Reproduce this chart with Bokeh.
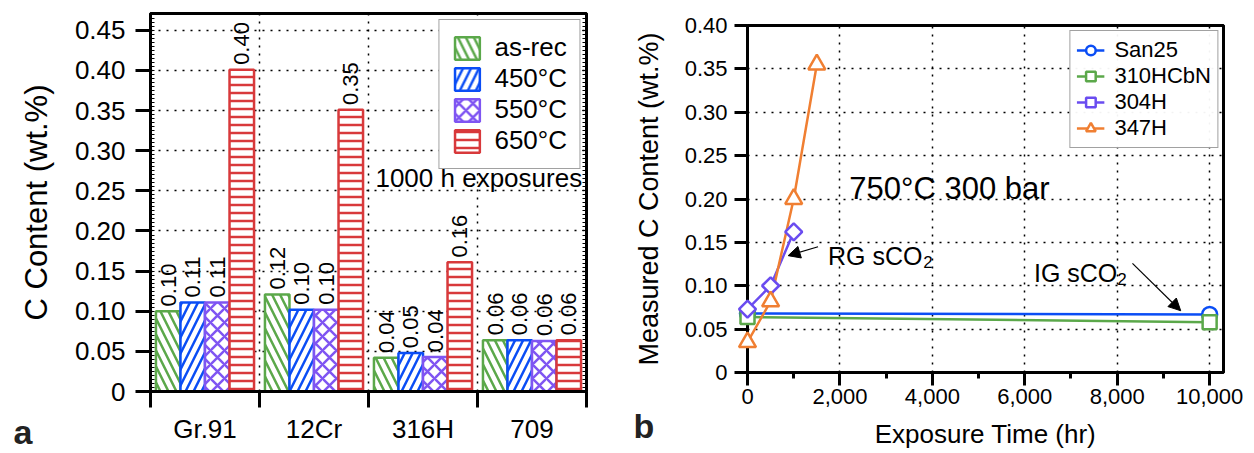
import numpy as np
from bokeh.plotting import figure
from bokeh.models import (ColumnDataSource, FixedTicker, SingleIntervalTicker, LinearAxis,
                          Range1d, Label, Arrow, NormalHead, NumeralTickFormatter,
                          CustomJSTickFormatter)
from bokeh.layouts import row, column
from bokeh.embed import file_html
from bokeh.resources import INLINE
from bokeh.core.properties import value

FONT = "Liberation Sans"

# ---------------- Panel a data ----------------
alloys = ["Gr.91", "12Cr", "316H", "709"]
conditions = ["as-rec", "450°C", "550°C", "650°C"]
c_asrec = [0.100, 0.121, 0.042, 0.064]
c_450 = [0.111, 0.102, 0.048, 0.064]
c_550 = [0.111, 0.102, 0.043, 0.063]
c_650 = [0.401, 0.351, 0.161, 0.064]

# ---------------- Panel b data ----------------
series_names = ["San25", "310HCbN", "304H", "347H"]
san25_t = [0, 10000]
san25_c = [0.068, 0.067]
hcbn_t = [0, 10000]
hcbn_c = [0.064, 0.058]
h304_t = [0, 500, 1000]
h304_c = [0.073, 0.100, 0.162]
h347_t = [0, 500, 1000, 1500]
h347_c = [0.035, 0.082, 0.200, 0.355]

zero_fmt = CustomJSTickFormatter(code="return Math.abs(tick) < 1e-9 ? '0' : tick.toFixed(2);")
blank_fmt = CustomJSTickFormatter(code="return '';")


def border_axis(ticker=None, tick_in=0):
    ax = LinearAxis(formatter=blank_fmt, major_label_text_font_size="0px",
                    axis_line_width=3, axis_line_color="black",
                    major_label_standoff=0, axis_label=None)
    if ticker is not None:
        ax.ticker = ticker
    ax.major_tick_in = tick_in
    ax.major_tick_out = 0
    ax.minor_tick_in = tick_in
    ax.minor_tick_out = 0
    ax.major_tick_line_width = 1.2
    ax.minor_tick_line_width = 1.2
    if tick_in == 0:
        ax.major_tick_line_color = None
        ax.minor_tick_line_color = None
    return ax


def style_axis(ax, label_size):
    ax.axis_line_width = 3
    ax.axis_line_color = "black"
    ax.major_tick_line_color = "black"
    ax.major_label_text_color = "black"
    ax.axis_label_text_color = "black"
    ax.major_label_text_font = FONT
    ax.axis_label_text_font = FONT
    ax.major_label_text_font_size = label_size
    ax.axis_label_text_font_style = "normal"


def panel_letter(p, letter, dx, dy):
    # letter anchored at the frame's lower-left corner, shifted in screen pixels
    p.text(x=[p.x_range.start], y=[p.y_range.start], text=[letter],
           x_offset=dx, y_offset=dy, text_font=value(FONT), text_font_size="34px",
           text_font_style="bold", text_color="#222222", text_baseline="alphabetic",
           text_align="left", level="overlay")


# ================= Panel a =================
p1 = figure(width=630, height=451, x_range=Range1d(0, 4), y_range=Range1d(0, 0.471),
            output_backend="svg", toolbar_location=None,
            min_border_left=150, min_border_right=44, min_border_top=13, min_border_bottom=60)
p1.background_fill_color = "white"
p1.border_fill_color = "white"
p1.outline_line_color = "black"
p1.outline_line_width = 3

bar_colors = ["#5BA84A", "#0A4DF5", "#7F55F2", "#D8393B"]
hatches = ["\\", "/", "x", "-"]
hatch_scales = [16, 16, 14, 8]
offsets = [-0.3375, -0.1125, 0.1125, 0.3375]
centers = np.arange(len(alloys)) + 0.5
for vals, off, col, hat, hs, name in zip([c_asrec, c_450, c_550, c_650], offsets,
                                        bar_colors, hatches, hatch_scales, conditions):
    src = ColumnDataSource(dict(x=centers + off, top=vals,
                                ly=np.array(vals) + 0.006,
                                lab=[f"{v:.2f}" for v in vals]))
    p1.vbar(x="x", top="top", bottom=0, width=0.225, source=src,
            fill_color="white", line_color=col, line_width=2.5,
            hatch_pattern=hat, hatch_color=col, hatch_weight=2.5, hatch_scale=hs,
            legend_label=name)
    p1.text(x="x", y="ly", text="lab", source=src, angle=np.pi / 2,
            text_align="left", text_baseline="middle",
            text_font=value(FONT), text_font_size="22px", text_color="black")

p1.xgrid.ticker = FixedTicker(ticks=[1, 2, 3])
p1.ygrid.ticker = SingleIntervalTicker(interval=0.05)
for g in (p1.xgrid[0], p1.ygrid[0]):
    g.grid_line_color = "black"
    g.grid_line_dash = "2 6"
    g.grid_line_width = 1.5

yax = p1.yaxis[0]
yax.ticker = SingleIntervalTicker(interval=0.05, num_minor_ticks=10)
yax.formatter = zero_fmt
style_axis(yax, "26px")
yax.major_tick_line_width = 3
yax.major_tick_out = 15
yax.major_tick_in = 0
yax.minor_tick_in = 4
yax.minor_tick_out = 0
yax.minor_tick_line_color = "black"
yax.minor_tick_line_width = 1.2
yax.major_label_standoff = 10
yax.axis_label = "C Content (wt.%)"
yax.axis_label_text_font_size = "31px"
yax.axis_label_standoff = 18

xax = p1.xaxis[0]
xax.ticker = FixedTicker(ticks=list(centers), minor_ticks=[0, 1, 2, 3, 4])
xax.formatter = CustomJSTickFormatter(args=dict(names=alloys),
                                      code="return names[Math.floor(tick)];")
style_axis(xax, "26px")
xax.major_tick_out = 0
xax.major_tick_in = 0
xax.major_tick_line_color = None
xax.minor_tick_out = 16
xax.minor_tick_in = 0
xax.minor_tick_line_color = "black"
xax.minor_tick_line_width = 3
xax.major_label_standoff = 6

p1.add_layout(border_axis(SingleIntervalTicker(interval=0.05, num_minor_ticks=10), 4), "right")
p1.add_layout(border_axis(), "above")

lg1 = p1.legend[0]
lg1.location = "top_right"
lg1.margin = 6
lg1.padding = 12
lg1.spacing = 0
lg1.glyph_width = 31
lg1.glyph_height = 28
lg1.label_height = 28
lg1.label_standoff = 12
lg1.label_text_font = FONT
lg1.label_text_font_size = "26px"
lg1.label_text_color = "black"
lg1.border_line_color = "#444444"
lg1.border_line_width = 1
lg1.background_fill_alpha = 1

p1.add_layout(Label(x=3.96, y=0.2656, text="1000 h exposures", text_align="right",
                    text_baseline="middle", text_font=FONT, text_font_size="26px",
                    text_color="black"))
panel_letter(p1, "a", -137, 40)

# ================= Panel b =================
p2 = figure(width=622, height=451, x_range=Range1d(0, 10300), y_range=Range1d(0, 0.40),
            output_backend="svg", toolbar_location=None,
            min_border_left=116, min_border_right=29, min_border_top=25, min_border_bottom=79)
p2.background_fill_color = "white"
p2.border_fill_color = "white"
p2.outline_line_color = "black"
p2.outline_line_width = 3

p2.xaxis[0].ticker = SingleIntervalTicker(interval=2000, num_minor_ticks=2)
p2.xgrid.ticker = SingleIntervalTicker(interval=2000)
p2.yaxis[0].ticker = SingleIntervalTicker(interval=0.05, num_minor_ticks=0)
p2.ygrid.ticker = SingleIntervalTicker(interval=0.05)
for g in (p2.xgrid[0], p2.ygrid[0]):
    g.grid_line_color = "black"
    g.grid_line_dash = "2 6"
    g.grid_line_width = 1.5

bx = p2.xaxis[0]
bx.formatter = NumeralTickFormatter(format="0,0")
style_axis(bx, "22px")
bx.major_tick_line_width = 3
bx.major_tick_out = 13
bx.major_tick_in = 0
bx.minor_tick_out = 6
bx.minor_tick_in = 0
bx.minor_tick_line_color = "black"
bx.minor_tick_line_width = 3
bx.major_label_standoff = 3
bx.axis_label = "Exposure Time (hr)"
bx.axis_label_text_font_size = "26px"
bx.axis_label_standoff = 12

by = p2.yaxis[0]
by.formatter = zero_fmt
style_axis(by, "22px")
by.major_tick_line_width = 3
by.major_tick_out = 13
by.major_tick_in = 0
by.minor_tick_line_color = None
by.major_label_standoff = 7
by.axis_label = "Measured C Content (wt.%)"
by.axis_label_text_font_size = "27px"
by.axis_label_standoff = 18

p2.add_layout(border_axis(), "right")
p2.add_layout(border_axis(), "above")

line_colors = ["#0A4DF5", "#5BA84A", "#6A4CF0", "#F07F32"]
markers = ["circle", "square", "square", "triangle"]
msizes = [15, 14, 12, 17]
mangles = [0, 0, np.pi / 4, 0]
data_b = [(san25_t, san25_c), (hcbn_t, hcbn_c), (h304_t, h304_c), (h347_t, h347_c)]
for (t, c), col, mk, ms, ma, name in zip(data_b, line_colors, markers, msizes, mangles, series_names):
    p2.line(t, c, line_color=col, line_width=2.5, legend_label=name)
    p2.scatter(t, c, marker=mk, size=ms, angle=ma, fill_color="white", line_color=col,
               line_width=2.5, legend_label=name, level="overlay")

lg2 = p2.legend[0]
lg2.location = "top_right"
lg2.margin = 5
lg2.padding = 6
lg2.spacing = 0
lg2.glyph_width = 28
lg2.glyph_height = 24
lg2.label_height = 24
lg2.label_standoff = 10
lg2.label_text_font = FONT
lg2.label_text_font_size = "22px"
lg2.label_text_color = "black"
lg2.border_line_color = "#444444"
lg2.border_line_width = 1

p2.add_layout(Label(x=2203, y=0.212, text="750°C 300 bar", text_font=FONT,
                    text_font_size="31px", text_baseline="alphabetic", text_color="black"))
p2.add_layout(Label(x=1742, y=0.1346, text="RG sCO", text_font=FONT,
                    text_font_size="25px", text_baseline="alphabetic", text_color="black"))
p2.add_layout(Label(x=3801, y=0.127, text="2", text_font=FONT,
                    text_font_size="17px", text_baseline="alphabetic", text_color="black"))
p2.add_layout(Label(x=6199, y=0.115, text="IG sCO", text_font=FONT,
                    text_font_size="25px", text_baseline="alphabetic", text_color="black"))
p2.add_layout(Label(x=8000, y=0.108, text="2", text_font=FONT,
                    text_font_size="17px", text_baseline="alphabetic", text_color="black"))
p2.add_layout(Arrow(end=NormalHead(size=12, fill_color="black", line_color="black", line_width=1),
                    x_start=1527, y_start=0.145, x_end=879, y_end=0.1347,
                    line_color="black", line_width=1.2))
p2.add_layout(Arrow(end=NormalHead(size=12, fill_color="black", line_color="black", line_width=1),
                    x_start=8330, y_start=0.1258, x_end=9374, y_end=0.0712,
                    line_color="black", line_width=1.2))
panel_letter(p2, "b", -114, 53)

layout = row(column(p1), column(p2))
open("out.html", "w").write(file_html(layout, INLINE))
